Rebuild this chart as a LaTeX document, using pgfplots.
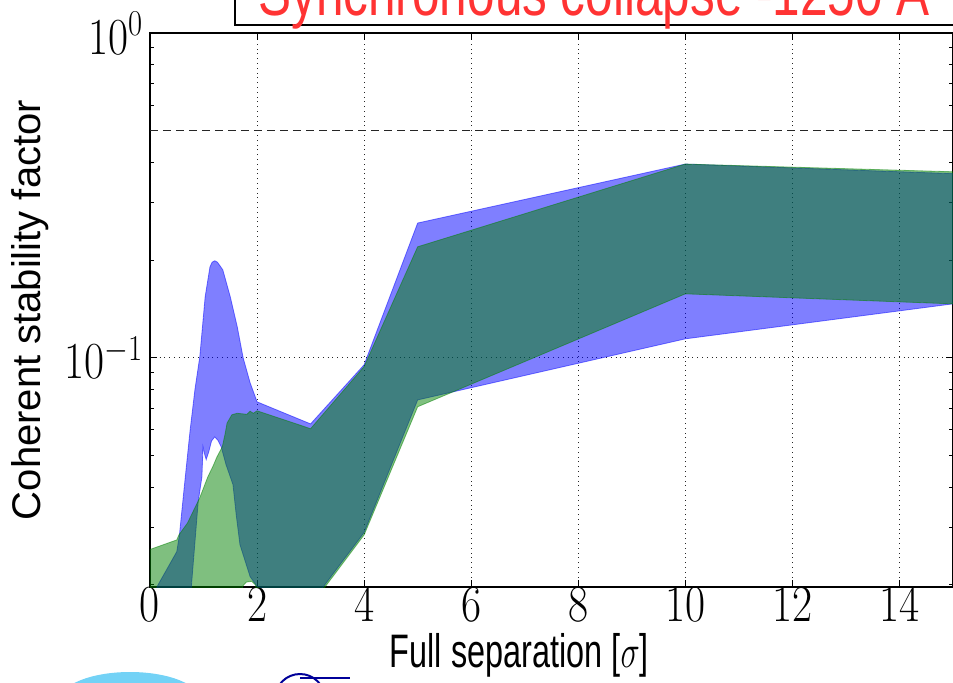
\documentclass[border=0pt]{standalone}
\usepackage{fix-cm}
\usepackage[no-math]{fontspec}
\setmainfont{Liberation Sans}
\usepackage{graphicx}
\usepackage{pgfplots}
\pgfplotsset{compat=1.18}
\definecolor{mplblue}{RGB}{0,0,255}
\definecolor{mplgreen}{RGB}{0,128,0}
\definecolor{titlered}{RGB}{255,51,51}
\newcommand{\tl}[1]{\scalebox{0.84}[1]{$#1$}}
\begin{document}
\begin{tikzpicture}
\begin{axis}[
 at={(0pt,0pt)}, anchor=south west,
 scale only axis, width=401.5pt, height=277pt,
 xmin=0, xmax=15, ymin=0.0197, ymax=1,
 ymode=log, log basis y=10,
 xtick={0,2,4,6,8,10,12,14},
 xticklabels={\tl{0},\tl{2},\tl{4},\tl{6},\tl{8},\tl{10},\tl{12},\tl{14}},
 ytick={0.1,1},
 yticklabels={\tl{10^{-1}},\tl{10^{0}}},
 minor ytick={0.02,0.03,0.04,0.05,0.06,0.07,0.08,0.09,0.2,0.3,0.4,0.5,0.6,0.7,0.8,0.9},
 ticklabel style={font=\fontsize{26}{31}\selectfont},
 xticklabel style={yshift=3pt},
 major tick length=3.5pt, minor tick length=2pt,
 tick style={black, line width=0.5pt},
 grid=major, major grid style={dotted, black!85, line width=0.5pt},
 axis line style={line width=0.8pt},
 xlabel={\scalebox{0.69}[1]{Full separation [$\sigma$]}},
 ylabel={Coherent stability factor},
 xlabel style={font=\fontsize{23.5}{28}\selectfont, at={(axis description cs:0.46,-0.123)}, anchor=center},
 ylabel style={font=\fontsize{20}{24}\selectfont, at={(axis description cs:-0.149,0.5)}, anchor=center},
]
% blue band: upper edge forward, lower edge backward
\addplot[draw=mplblue, fill=mplblue, fill opacity=0.5, draw opacity=0.5, line width=0.4pt] coordinates {
(0,0.0175) (0.15,0.0200) (0.50,0.0253) (0.55,0.0285) (0.64,0.040) (0.75,0.060) (0.84,0.080) (0.93,0.1007) (1.03,0.154) (1.12,0.1905) (1.16,0.197) (1.21,0.199) (1.26,0.197) (1.36,0.1866) (1.50,0.154) (1.63,0.1246) (1.74,0.100) (1.87,0.0838) (2.0,0.0732) (3,0.0626) (4,0.0952) (5,0.260) (10,0.395) (15,0.369)
(15,0.1466) (10,0.1144) (5,0.0742) (4,0.0290) (3,0.0175) (2.0,0.0198) (1.87,0.0212) (1.68,0.0266) (1.61,0.0329) (1.55,0.0407) (1.42,0.0469) (1.33,0.0532) (1.27,0.0557) (1.21,0.0571) (1.15,0.0555) (1.10,0.0515) (1.05,0.0486) (1.02,0.0505) (0.99,0.0532) (0.97,0.0430) (0.90,0.0360) (0.77,0.0195) (0,0.012)
};
% green band
\addplot[draw=mplgreen, fill=mplgreen, fill opacity=0.5, draw opacity=0.5, line width=0.4pt] coordinates {
(0,0.0257) (0.50,0.0275) (0.54,0.0285) (0.70,0.031) (0.93,0.0371) (1.08,0.0430) (1.18,0.0465) (1.25,0.0495) (1.35,0.0532) (1.40,0.058) (1.44,0.063) (1.53,0.0668) (1.63,0.0675) (1.81,0.067) (1.87,0.0685) (1.93,0.0675) (2.0,0.0687) (3,0.0605) (4,0.094) (5,0.2197) (10,0.395) (15,0.374)
(15,0.1466) (10,0.1574) (5,0.0707) (4,0.0285) (3,0.0172) (2.0,0.0185) (1.97,0.0200) (1.9,0.0205) (1.8,0.0204) (1.74,0.0199) (1.6,0.017) (0,0.015)
};
% reference level
\addplot[black!85, line width=0.6pt, dash pattern=on 4pt off 2.5pt] coordinates {(0,0.5) (15,0.5)};
\end{axis}
% title box (cut by the frame)
\draw[line width=0.75pt, fill=white] (42.5pt,281pt) rectangle (440pt,345pt);
\node[anchor=base west, text=titlered, inner sep=0pt, font=\fontsize{33}{40}\selectfont] at (54pt,285.5pt) {\scalebox{0.75}[1]{Synchronous collapse -1250 A}};
% logos at the bottom edge (cut)
\fill[cyan!55!white] (-10pt,-56.5pt) ellipse (35pt and 14pt);
\draw[blue!60!black, line width=1pt] (75pt,-56pt) circle (12.5pt);
\draw[blue!60!black, line width=1pt] (75pt,-45.5pt) -- (100pt,-45.5pt);
\pgfresetboundingbox
\useasboundingbox (-75pt,-47.5pt) rectangle (401.5pt,293.5pt);
\end{tikzpicture}
\end{document}
